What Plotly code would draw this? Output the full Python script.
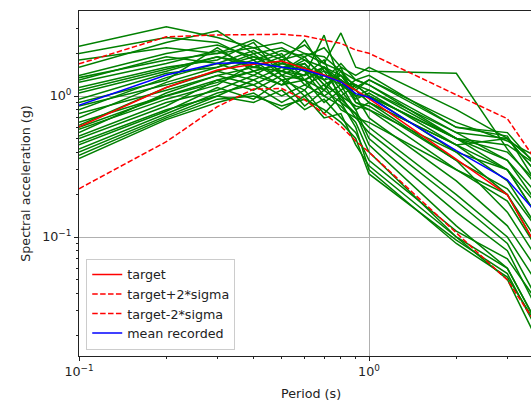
import plotly.graph_objects as go

# Spectral periods (s) at which every spectrum is sampled
periods = [0.1, 0.2, 0.3, 0.4, 0.5, 0.6, 0.7, 0.8, 0.9, 1.0, 2.0, 3.0, 4.0]

# Target spectrum and its +/- 2 sigma bounds (g)
target = [0.605, 1.15, 1.53, 1.68, 1.77, 1.57, 1.41, 1.26, 1.10, 0.96, 0.353, 0.199, 0.07]
target_plus = [1.69, 2.63, 2.71, 2.74, 2.74, 2.66, 2.50, 2.36, 2.12, 2.01, 1.02, 0.69, 0.29]
target_minus = [0.22, 0.474, 0.84, 1.12, 1.13, 0.94, 0.75, 0.61, 0.48, 0.40, 0.107, 0.0495, 0.02]

# Mean of the recorded spectra (g)
mean_recorded = [0.86, 1.41, 1.71, 1.72, 1.60, 1.53, 1.39, 1.26, 1.04, 0.98, 0.41, 0.254, 0.13]

# Individual recorded spectra (g)
records = [
    [2.25, 3.1, 2.6, 2.2, 2.4, 2.0, 1.9, 1.5, 1.3, 1.2, 0.5, 0.35, 0.15],
    [1.8, 2.2, 2.0, 2.5, 1.9, 2.3, 1.7, 2.8, 1.6, 1.5, 1.45, 0.42, 0.2],
    [1.6, 2.4, 2.9, 2.0, 2.2, 1.8, 1.6, 1.4, 1.2, 1.1, 0.55, 0.5, 0.25],
    [1.4, 2.0, 2.3, 1.9, 1.7, 2.5, 1.5, 1.3, 1.1, 0.9, 0.45, 0.3, 0.12],
    [1.3, 1.9, 1.7, 2.1, 1.6, 1.4, 2.7, 1.2, 1.0, 1.0, 0.5, 0.45, 0.3],
    [1.25, 1.7, 2.1, 1.6, 1.9, 1.5, 1.3, 1.7, 1.3, 1.4, 0.6, 0.52, 0.2],
    [1.15, 1.6, 1.8, 2.4, 1.4, 1.7, 1.2, 1.0, 0.85, 0.8, 0.3, 0.18, 0.07],
    [1.05, 1.5, 1.9, 1.7, 2.0, 1.3, 1.6, 1.1, 1.3, 1.2, 0.55, 0.35, 0.18],
    [0.95, 1.45, 1.6, 1.9, 1.5, 1.8, 1.4, 1.3, 0.9, 0.85, 0.35, 0.22, 0.1],
    [0.9, 1.3, 2.2, 1.5, 1.7, 1.6, 1.1, 1.5, 1.0, 1.1, 0.5, 0.4, 0.22],
    [0.85, 1.2, 1.5, 1.8, 1.3, 1.4, 1.8, 0.9, 0.75, 0.6, 0.2, 0.1, 0.04],
    [0.8, 1.35, 1.7, 1.4, 1.8, 1.2, 1.4, 1.2, 1.1, 1.3, 0.6, 0.55, 0.28],
    [0.75, 1.1, 1.4, 1.6, 1.5, 1.9, 1.3, 1.4, 1.0, 0.7, 0.25, 0.12, 0.05],
    [0.7, 1.25, 1.6, 2.0, 1.4, 1.3, 1.5, 1.0, 1.2, 1.0, 0.4, 0.3, 0.15],
    [0.65, 1.0, 1.3, 1.5, 1.7, 1.5, 1.0, 1.2, 0.8, 0.9, 0.45, 0.25, 0.1],
    [0.62, 1.15, 1.5, 1.3, 1.6, 1.7, 1.2, 0.8, 0.7, 0.55, 0.18, 0.09, 0.03],
    [0.58, 0.95, 1.2, 1.7, 1.3, 1.1, 1.6, 1.3, 0.95, 1.05, 0.45, 0.5, 0.25],
    [0.55, 1.05, 1.4, 1.2, 1.5, 1.3, 0.9, 1.1, 0.8, 0.5, 0.15, 0.08, 0.025],
    [0.52, 0.9, 1.1, 1.4, 1.2, 1.6, 1.3, 0.95, 0.75, 0.45, 0.12, 0.06, 0.02],
    [0.5, 0.85, 1.3, 1.1, 1.4, 1.0, 1.2, 1.4, 1.1, 0.9, 0.35, 0.15, 0.06],
    [0.47, 0.8, 1.0, 1.3, 1.0, 1.2, 1.0, 0.85, 0.65, 0.4, 0.1, 0.05, 0.015],
    [0.45, 0.78, 1.15, 0.95, 1.3, 0.85, 1.1, 0.9, 0.6, 0.3, 0.09, 0.052, 0.02],
    [0.42, 0.75, 1.05, 1.2, 0.9, 1.1, 0.75, 1.0, 0.7, 0.65, 0.3, 0.2, 0.08],
    [0.4, 0.72, 1.0, 0.9, 1.1, 0.8, 0.95, 0.7, 0.55, 0.35, 0.11, 0.07, 0.03],
    [0.38, 0.7, 0.95, 1.0, 0.85, 0.95, 0.8, 0.65, 0.5, 0.28, 0.095, 0.055, 0.018],
    [2.0, 2.6, 2.4, 1.8, 2.1, 1.9, 2.2, 1.6, 1.4, 1.6, 0.8, 0.5, 0.3],
    [1.35, 1.8, 2.0, 2.2, 1.8, 2.0, 1.7, 1.5, 1.15, 1.3, 0.65, 0.48, 0.35],
    [1.1, 1.55, 1.9, 1.6, 1.5, 1.4, 1.6, 1.2, 1.2, 1.0, 0.5, 0.3, 0.12],
    [0.6, 1.0, 1.25, 1.5, 1.2, 1.3, 1.1, 1.6, 0.9, 0.8, 0.4, 0.2, 0.07],
    [0.36, 0.68, 0.9, 1.05, 0.8, 1.0, 0.7, 0.75, 0.45, 0.32, 0.1, 0.06, 0.02],
]

# Axis ticks
x_major = [0.1, 1.0]
x_major_text = ["10<sup>\u22121</sup>", "10<sup>0</sup>"]
y_major = [0.1, 1.0]
y_major_text = ["10<sup>\u22121</sup>", "10<sup>0</sup>"]
x_minor = [0.2, 0.3, 0.4, 0.5, 0.6, 0.7, 0.8, 0.9, 2, 3]
y_minor = [0.02, 0.03, 0.04, 0.05, 0.06, 0.07, 0.08, 0.09,
           0.2, 0.3, 0.4, 0.5, 0.6, 0.7, 0.8, 0.9, 2, 3]

FONT = "DejaVu Sans"
FS = 12.7
DASH = "5.5px,2.4px"

fig = go.Figure()

for rec in records:
    fig.add_trace(go.Scatter(
        x=periods, y=rec, mode="lines",
        line=dict(color="green", width=1.5),
        showlegend=False, hoverinfo="skip",
    ))

fig.add_trace(go.Scatter(x=periods, y=target, mode="lines", name="target",
                         line=dict(color="red", width=1.5)))
fig.add_trace(go.Scatter(x=periods, y=target_plus, mode="lines", name="target+2*sigma",
                         line=dict(color="red", width=1.5, dash=DASH)))
fig.add_trace(go.Scatter(x=periods, y=target_minus, mode="lines", name="target-2*sigma",
                         line=dict(color="red", width=1.5, dash=DASH)))
fig.add_trace(go.Scatter(x=periods, y=mean_recorded, mode="lines", name="mean recorded",
                         line=dict(color="blue", width=1.5)))

axis_common = dict(
    type="log",
    showline=True, linecolor="#222222", linewidth=1,
    showgrid=True, gridcolor="#b0b0b0", gridwidth=1,
    zeroline=False,
    ticks="outside", ticklen=4, tickwidth=1, tickcolor="#222222",
    tickfont=dict(family=FONT, size=FS, color="#222222"),
    tickmode="array",
)

fig.update_layout(
    width=531, height=400,
    margin=dict(l=79, r=0, t=11, b=44),
    paper_bgcolor="white", plot_bgcolor="white",
    font=dict(family=FONT, size=FS, color="#222222"),
    xaxis=dict(
        **axis_common,
        range=[-1, 0.5586],
        tickvals=x_major, ticktext=x_major_text,
        mirror=True,
        minor=dict(tickmode="array", tickvals=x_minor, ticks="outside",
                   ticklen=2, tickwidth=1, tickcolor="#222222", showgrid=False),
    ),
    yaxis=dict(
        **axis_common,
        range=[-1.844, 0.603],
        tickvals=y_major, ticktext=y_major_text,
        minor=dict(tickmode="array", tickvals=y_minor, ticks="outside",
                   ticklen=2, tickwidth=1, tickcolor="#222222", showgrid=False),
        title=dict(text="Spectral acceleration (g)", font=dict(family=FONT, size=FS), standoff=8),
    ),
    legend=dict(
        x=0.016, y=0.018, xanchor="left", yanchor="bottom",
        bgcolor="rgba(255,255,255,0.8)", bordercolor="#cccccc", borderwidth=1,
        font=dict(family=FONT, size=FS, color="#222222"),
        tracegroupgap=0, itemwidth=30,
    ),
    annotations=[dict(
        text="Period (s)", xref="paper", yref="paper",
        x=0.513, y=-0.11, xanchor="center", yanchor="middle",
        showarrow=False, font=dict(family=FONT, size=FS, color="#222222"),
    )],
)

fig.write_html("out.html")
